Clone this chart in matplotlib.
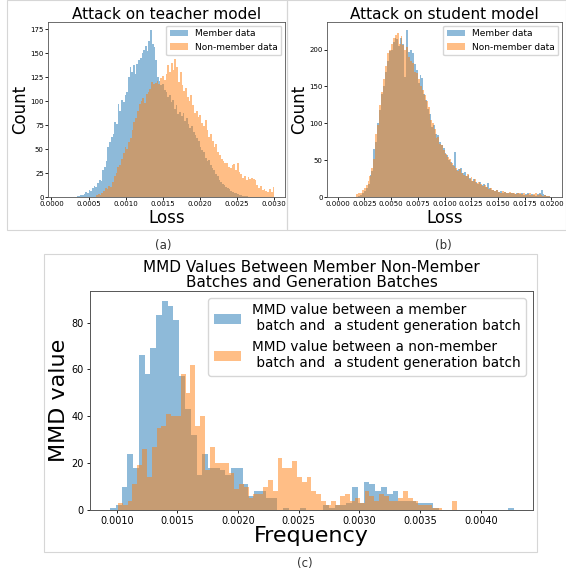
import numpy as np
import matplotlib.pyplot as plt
from matplotlib.patches import Rectangle

# ---- (a) attack on teacher model: histogram counts, 100 bins each ----
teacher_member_range = (0.00034, 0.00264)
teacher_member = [
    1, 1, 2, 2, 3, 5, 4, 7, 6, 9,
    12, 10, 15, 18, 17, 28, 31, 38, 52, 57,
    63, 66, 78, 76, 97, 90, 101, 99, 107, 110,
    125, 136, 131, 138, 128, 139, 143, 145, 150, 153,
    158, 152, 163, 174, 160, 157, 143, 125, 121, 117,
    118, 112, 110, 104, 107, 99, 101, 92, 96, 87,
    89, 85, 88, 79, 82, 76, 72, 74, 68, 65,
    62, 58, 52, 49, 47, 41, 38, 39, 33, 30,
    28, 24, 22, 18, 16, 14, 13, 10, 9, 8,
    6, 5, 4, 4, 3, 2, 2, 1, 1, 1,
]
teacher_nonmember_range = (0.0006, 0.003)
teacher_nonmember = [
    2, 3, 2, 4, 6, 9, 8, 11, 10, 16,
    22, 25, 31, 33, 40, 46, 52, 50, 57, 62,
    70, 78, 82, 90, 97, 100, 103, 98, 108, 110,
    113, 120, 118, 119, 121, 118, 124, 126, 122, 128,
    138, 131, 140, 133, 144, 136, 120, 131, 117, 111,
    114, 104, 100, 106, 96, 88, 90, 84, 86, 77,
    74, 80, 70, 63, 66, 58, 52, 55, 47, 44,
    40, 38, 35, 36, 31, 30, 33, 34, 28, 35,
    26, 24, 20, 22, 18, 21, 19, 20, 19, 18,
    13, 9, 12, 7, 8, 6, 5, 8, 5, 10,
]

# ---- (b) attack on student model ----
student_member_range = (0.0019, 0.0199)
student_member = [
    2, 3, 5, 8, 12, 18, 30, 35, 65, 75,
    100, 118, 140, 150, 170, 185, 198, 200, 210, 216,
    214, 205, 215, 208, 163, 226, 196, 200, 195, 180,
    172, 155, 165, 162, 140, 132, 120, 112, 95, 98,
    86, 84, 74, 70, 66, 60, 57, 50, 47, 44,
    61, 36, 38, 40, 32, 34, 28, 30, 26, 22,
    25, 20, 18, 21, 16, 18, 13, 19, 12, 10,
    9, 8, 9, 7, 8, 6, 7, 6, 5, 6,
    5, 4, 6, 5, 4, 5, 3, 4, 5, 3,
    4, 3, 2, 4, 6, 10, 4, 3, 2, 1,
]
student_nonmember_range = (0.0017, 0.0199)
student_nonmember = [
    4, 6, 5, 9, 12, 16, 22, 28, 40, 52,
    85, 98, 125, 142, 160, 178, 195, 200, 208, 215,
    220, 223, 208, 218, 206, 200, 203, 190, 185, 182,
    170, 168, 160, 150, 145, 138, 130, 122, 105, 100,
    92, 80, 82, 72, 70, 64, 58, 54, 52, 46,
    42, 40, 35, 38, 33, 30, 28, 31, 25, 27,
    22, 24, 19, 20, 17, 15, 16, 13, 11, 12,
    9, 8, 10, 7, 6, 8, 7, 5, 6, 7,
    5, 6, 4, 5, 6, 4, 5, 3, 4, 5,
    3, 4, 6, 3, 4, 3, 2, 3, 2, 1,
]

# ---- (c) MMD values, 70 bins each ----
mmd_member_range = (0.000945, 0.00427)
mmd_member = [
    1, 2, 10, 24, 18, 66, 58, 69, 83, 89,
    87, 81, 57, 43, 32, 15, 24, 18, 18, 17,
    15, 18, 18, 11, 6, 8, 8, 5, 5, 0,
    1, 0, 0, 1, 0, 0, 0, 2, 1, 2,
    2, 3, 10, 3, 12, 11, 8, 10, 7, 8,
    4, 4, 4, 3, 3, 3, 1, 0, 0, 0,
    0, 0, 0, 0, 0, 0, 0, 0, 0, 1,
]
mmd_nonmember_range = (0.00101, 0.0038)
mmd_nonmember = [
    3, 2, 4, 11, 19, 26, 14, 27, 35, 36,
    41, 40, 40, 58, 50, 62, 36, 40, 17, 27,
    20, 20, 20, 16, 9, 11, 10, 5, 7, 7,
    10, 13, 8, 22, 18, 18, 21, 14, 12, 14,
    8, 7, 4, 2, 4, 2, 6, 7, 4, 5,
    3, 8, 6, 4, 7, 6, 4, 4, 5, 8,
    5, 4, 2, 2, 2, 1, 1, 0, 0, 4,
]

BLUE = '#1f77b4'
ORANGE = '#ff7f0e'


def edges_for(rng, counts):
    return np.linspace(rng[0], rng[1], len(counts) + 1)


def draw_pair(ax, a_rng, a_counts, b_rng, b_counts, a_label, b_label):
    ax.stairs(a_counts, edges_for(a_rng, a_counts), fill=True, color=BLUE,
              alpha=0.5, label=a_label, linewidth=0)
    ax.stairs(b_counts, edges_for(b_rng, b_counts), fill=True, color=ORANGE,
              alpha=0.5, label=b_label, linewidth=0)
    top = max(max(a_counts), max(b_counts))
    ax.set_ylim(0, top * 1.05)


fig = plt.figure(figsize=(5.66, 5.73), dpi=100)

# panel frames (figure pixel coords converted to fractions)
W, H = 566.0, 573.0
for x0, y0, x1, y1 in [(7, 0, 287, 230), (287, 0, 566, 230), (44, 254, 537, 552)]:
    fig.patches.append(Rectangle((x0 / W, 1 - y1 / H), (x1 - x0) / W, (y1 - y0) / H,
                                 transform=fig.transFigure, fill=False,
                                 edgecolor='#d6d6d6', linewidth=0.8))

ax_a = fig.add_axes([48 / W, 1 - 197 / H, 237 / W, 175 / H])
ax_b = fig.add_axes([327 / W, 1 - 197 / H, 235 / W, 175 / H])
ax_c = fig.add_axes([90 / W, 1 - 510 / H, 443 / W, 219 / H])

# (a)
draw_pair(ax_a, teacher_member_range, teacher_member,
          teacher_nonmember_range, teacher_nonmember,
          'Member data', 'Non-member data')
ax_a.set_xlim(-0.000046, 0.003144)
ax_a.set_xticks(np.arange(0, 0.0031, 0.0005))
ax_a.set_title('Attack on teacher model', fontsize=11, pad=2)
ax_a.set_xlabel('Loss', fontsize=12, labelpad=1)
ax_a.set_ylabel('Count', fontsize=12, labelpad=1)
ax_a.legend(loc='upper right', fontsize=6.5, borderaxespad=0.4)

# (b)
draw_pair(ax_b, student_member_range, student_member,
          student_nonmember_range, student_nonmember,
          'Member data', 'Non-member data')
ax_b.set_xlim(-0.001, 0.021)
ax_b.set_xticks(np.arange(0, 0.02001, 0.0025))
ax_b.set_title('Attack on student model', fontsize=11, pad=2)
ax_b.set_xlabel('Loss', fontsize=12, labelpad=1)
ax_b.set_ylabel('Count', fontsize=12, labelpad=1)
ax_b.legend(loc='upper right', fontsize=6.5, borderaxespad=0.4)

for ax in (ax_a, ax_b):
    ax.tick_params(labelsize=5, length=2, width=0.6, pad=1)
    for s in ax.spines.values():
        s.set_linewidth(0.6)
        s.set_color('#555555')

# (c)
draw_pair(ax_c, mmd_member_range, mmd_member,
          mmd_nonmember_range, mmd_nonmember,
          'MMD value between a member\n batch and  a student generation batch',
          'MMD value between a non-member\n batch and  a student generation batch')
ax_c.set_xlim(0.00078, 0.00443)
ax_c.set_xticks(np.arange(0.001, 0.00401, 0.0005))
ax_c.set_title('MMD Values Between Member Non-Member\nBatches and Generation Batches',
               fontsize=11, pad=3, linespacing=1.0)
ax_c.set_xlabel('Frequency', fontsize=16, labelpad=0)
ax_c.set_ylabel('MMD value', fontsize=16, labelpad=2)
ax_c.tick_params(labelsize=7, length=2.5, width=0.6, pad=2)
for s in ax_c.spines.values():
    s.set_linewidth(0.7)
    s.set_color('#555555')
ax_c.legend(loc='upper right', fontsize=9.8, borderaxespad=0.5)

# captions
fig.text(163 / W, 1 - 245 / H, '(a)', ha='center', va='center', fontsize=8.5, color='#333333')
fig.text(443 / W, 1 - 245 / H, '(b)', ha='center', va='center', fontsize=8.5, color='#333333')
fig.text(305 / W, 1 - 563 / H, '(c)', ha='center', va='center', fontsize=8.5, color='#333333')

fig.savefig('out.png', dpi=100)
